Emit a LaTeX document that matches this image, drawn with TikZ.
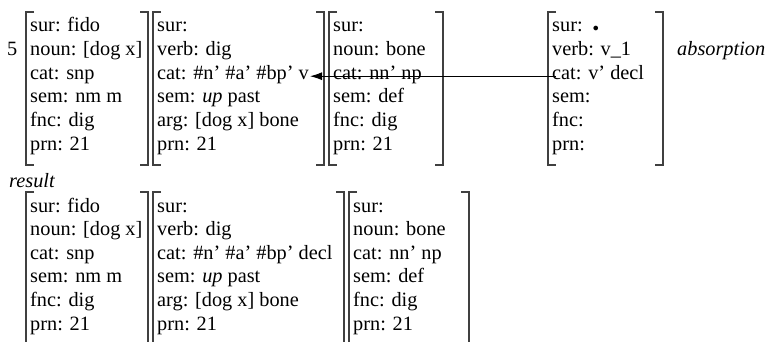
\documentclass[tikz,border=0pt]{standalone}
\usepackage{fontspec}
\setmainfont{Liberation Serif}
\usetikzlibrary{arrows.meta}
\tikzset{
  txt/.style={anchor=base west, inner sep=0pt, font=\fontsize{20.3}{24}\selectfont},
  brk/.style={draw=black!75, line width=1.1pt},
  arr/.style={draw=black, line width=0.9pt, -{Latex[length=12pt,width=8pt]}}
}
\newcommand\brk[4]{%
  \draw[brk] ({#1+8},#3) -- (#1,#3) -- (#1,#4) -- ({#1+8},#4);
  \draw[brk] ({#2-8},#3) -- (#2,#3) -- (#2,#4) -- ({#2-8},#4);
}
\newcommand\fslines[9]{%
  \node[txt] (#1-1) at (#2,#3) {#4};
  \node[txt] (#1-2) at (#2,{#3+23.6}) {#5};
  \node[txt] (#1-3) at (#2,{#3+47.2}) {#6};
  \node[txt] (#1-4) at (#2,{#3+70.8}) {#7};
  \node[txt] (#1-5) at (#2,{#3+94.4}) {#8};
  \node[txt] (#1-6) at (#2,{#3+118}) {#9};
}
\begin{document}
\begin{tikzpicture}[x=1pt,y=-1pt]
\useasboundingbox (0,0) rectangle (767,342);
% top row
\node[txt] (five) at (7,55.6) {5};
\brk{26}{148}{12}{165}
\fslines{a1}{30}{32}{sur: fido}{noun: [dog x]}{cat: snp}{sem: nm m}{fnc: dig}{prn: 21}
\brk{153}{324}{12}{165}
\fslines{a2}{157}{32}{sur:}{verb: dig}{cat: \#n’ \#a’ \#bp’ v}{sem: \textit{up} past}{arg: [dog x] bone}{prn: 21}
\brk{329}{443}{12}{165}
\fslines{a3}{333}{32}{sur:}{noun: bone}{cat: nn’ np}{sem: def}{fnc: dig}{prn: 21}
\brk{548}{663}{12}{165}
\fslines{a4}{552}{32}{sur: \,{\fontsize{13}{13}\selectfont$\bullet$}}{verb: v\_1}{cat: v’ decl}{sem:}{fnc:}{prn:}
\node[txt, font=\fontsize{20.3}{24}\selectfont\itshape] (absorb) at (677,55.6) {absorption};
\draw[arr] ([xshift=4pt,yshift=3pt]a4-3.base west) -- ([xshift=1pt,yshift=3pt]a2-3.base east);
% result row
\node[txt, font=\fontsize{20.3}{24}\selectfont\itshape] (result) at (9,187) {result};
\brk{26}{148}{192}{345}
\fslines{b1}{30}{212}{sur: fido}{noun: [dog x]}{cat: snp}{sem: nm m}{fnc: dig}{prn: 21}
\brk{153}{344}{192}{345}
\fslines{b2}{157}{212}{sur:}{verb: dig}{cat: \#n’ \#a’ \#bp’ decl}{sem: \textit{up} past}{arg: [dog x] bone}{prn: 21}
\brk{349}{469}{192}{345}
\fslines{b3}{353}{212}{sur:}{noun: bone}{cat: nn’ np}{sem: def}{fnc: dig}{prn: 21}
\end{tikzpicture}
\end{document}
